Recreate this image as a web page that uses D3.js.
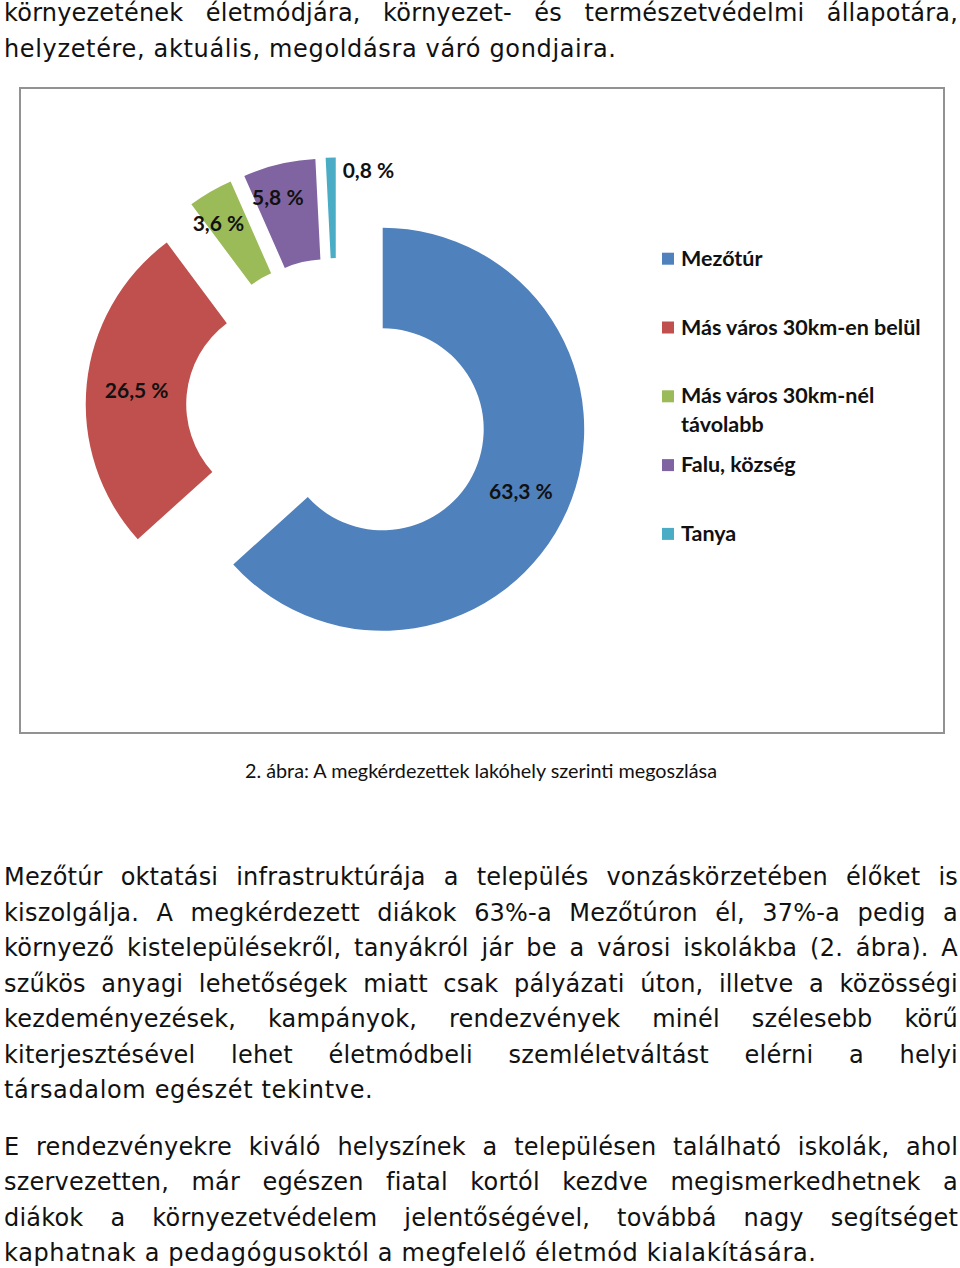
<!DOCTYPE html>
<html>
<head>
<meta charset="utf-8">
<script src="https://cdn.jsdelivr.net/npm/d3@7"></script>
<style>
  html, body { margin: 0; padding: 0; background: #fff; }
  #page { position: relative; width: 960px; height: 1268px; overflow: hidden; background: #fff; }
  .line { position: absolute; left: 4px; width: 954px; font-family: "DejaVu Sans", Verdana, sans-serif;
          font-size: 24px; line-height: 36px; color: #111; white-space: nowrap; letter-spacing: 0.65px; }
  .just { text-align: justify; text-align-last: justify; white-space: normal; letter-spacing: 0.2px; }
  svg { position: absolute; left: 0; top: 0; }
</style>
</head>
<body>
<div id="page"></div>
<script>
// ---------- data ----------
const categories = ["Mezőtúr", "Más város 30km-en belül", "Más város 30km-nél távolabb", "Falu, község", "Tanya"];
const legendLines = [["Mezőtúr"], ["Más város 30km-en belül"], ["Más város 30km-nél", "távolabb"], ["Falu, község"], ["Tanya"]];
const values = [63.3, 26.5, 3.6, 5.8, 0.8];
const valueLabels = ["63,3 %", "26,5 %", "3,6 %", "5,8 %", "0,8 %"];
const colors = ["#4F81BD", "#C0504D", "#9BBB59", "#8064A2", "#4BACC6"];
const caption = "2. ábra: A megkérdezettek lakóhely szerinti megoszlása";

const topLines = [
  ["környezetének életmódjára, környezet- és természetvédelmi állapotára,", true],
  ["helyzetére, aktuális, megoldásra váró gondjaira.", false]
];
const para1 = [
  ["Mezőtúr oktatási infrastruktúrája a település vonzáskörzetében élőket is", true],
  ["kiszolgálja. A megkérdezett diákok 63%-a Mezőtúron él, 37%-a pedig a", true],
  ["környező kistelepülésekről, tanyákról jár be a városi iskolákba (2. ábra). A", true],
  ["szűkös anyagi lehetőségek miatt csak pályázati úton, illetve a közösségi", true],
  ["kezdeményezések, kampányok, rendezvények minél szélesebb körű", true],
  ["kiterjesztésével lehet életmódbeli szemléletváltást elérni a helyi", true],
  ["társadalom egészét tekintve.", false]
];
const para2 = [
  ["E rendezvényekre kiváló helyszínek a településen található iskolák, ahol", true],
  ["szervezetten, már egészen fiatal kortól kezdve megismerkedhetnek a", true],
  ["diákok a környezetvédelem jelentőségével, továbbá nagy segítséget", true],
  ["kaphatnak a pedagógusoktól a megfelelő életmód kialakítására.", false]
];

// ---------- layout ----------
const page = d3.select("#page");
const lineStep = 35.5;
const baselineOffset = 26; // baseline offset inside a 36px line box (DejaVu Sans 24px)

function drawLines(lines, firstBaseline, spacing) {
  lines.forEach(([txt, justify], i) => {
    page.append("div")
      .attr("class", "line" + (justify ? " just" : ""))
      .style("top", (firstBaseline + i * spacing - baselineOffset) + "px")
      .text(txt);
  });
}
drawLines(topLines, 21, lineStep);
drawLines(para1, 885, lineStep);
drawLines(para2, 1154.5, lineStep);

const svg = page.append("svg").attr("width", 960).attr("height", 800);

// chart frame
svg.append("rect")
  .attr("x", 20).attr("y", 88).attr("width", 924).attr("height", 645)
  .attr("fill", "#fff").attr("stroke", "#929292").attr("stroke-width", 2);

// doughnut
const cx = 337, cy = 409, explode = 50, rOuter = 201.5, rInner = 101;
const pie = d3.pie().sort(null).value(d => d).startAngle(0).endAngle(2 * Math.PI);
const arcs = pie(values);
const arc = d3.arc().innerRadius(rInner).outerRadius(rOuter);

const g = svg.append("g").attr("transform", `translate(${cx},${cy})`);
const slices = g.selectAll("g.slice").data(arcs).enter().append("g")
  .attr("class", "slice")
  .attr("transform", d => {
    const a = (d.startAngle + d.endAngle) / 2;
    return `translate(${explode * Math.sin(a)},${-explode * Math.cos(a)})`;
  });
slices.append("path").attr("d", arc).attr("fill", (d, i) => colors[i]);

slices.append("text")
  .attr("font-family", "Lato, 'Open Sans', sans-serif")
  .attr("font-weight", 700)
  .attr("font-size", 21)
  .attr("fill", "#111")
  .attr("dominant-baseline", "central")
  .each(function (d, i) {
    const a = (d.startAngle + d.endAngle) / 2;
    const t = d3.select(this);
    if (d.data >= 10) {
      const [x, y] = arc.centroid(d);
      t.attr("x", x).attr("y", y).attr("text-anchor", "middle");
    } else if (d.data >= 2) {
      const r = 171, a2 = a - 0.05;
      t.attr("x", r * Math.sin(a2)).attr("y", -r * Math.cos(a2)).attr("text-anchor", "middle");
    } else {
      t.attr("x", rOuter * Math.sin(a) + 12).attr("y", -rOuter * Math.cos(a) + 12).attr("text-anchor", "start");
    }
  })
  .text((d, i) => valueLabels[i]);

// legend
const legend = svg.append("g").attr("transform", "translate(662,258.7)");
const legendStep = 68.8;
const items = legend.selectAll("g").data(categories).enter().append("g")
  .attr("transform", (d, i) => `translate(0,${i * legendStep})`);
items.append("rect").attr("x", 0).attr("y", -6).attr("width", 12).attr("height", 12)
  .attr("fill", (d, i) => colors[i]);
items.append("text")
  .attr("x", 19).attr("y", 7)
  .attr("font-family", "Lato, 'Open Sans', sans-serif")
  .attr("font-weight", 700).attr("font-size", 21.5).attr("fill", "#111")
  .selectAll("tspan").data((d, i) => legendLines[i]).enter().append("tspan")
  .attr("x", 19).attr("dy", (d, j) => j === 0 ? 0 : 28.5)
  .text(d => d);

// caption
svg.append("text")
  .attr("x", 481).attr("y", 778)
  .attr("text-anchor", "middle")
  .attr("font-family", "Lato, 'Open Sans', sans-serif")
  .attr("font-size", 19.8).attr("fill", "#111")
  .text(caption);
</script>
</body>
</html>
